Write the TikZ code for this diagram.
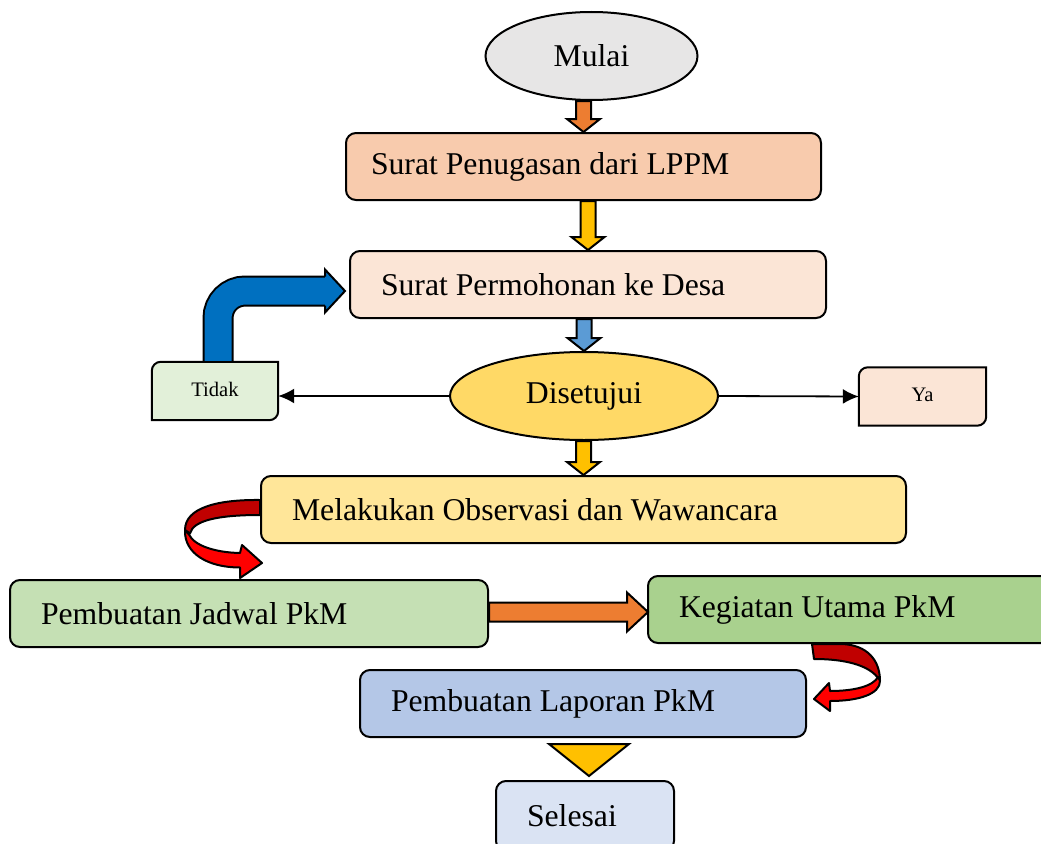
\documentclass[tikz,border=0pt]{standalone}
\usepackage{fontspec}
\setmainfont{Liberation Serif}
\usepackage{tikz}
\usetikzlibrary{shapes,shapes.geometric,positioning,calc,arrows.meta,backgrounds}
\definecolor{startgray}{HTML}{E7E6E6}
\definecolor{peach}{HTML}{F8CBAD}
\definecolor{lightpeach}{HTML}{FBE5D6}
\definecolor{gold}{HTML}{FFD966}
\definecolor{palegreen}{HTML}{E2F0D9}
\definecolor{paleyellow}{HTML}{FFE699}
\definecolor{midgreen}{HTML}{C5E0B4}
\definecolor{green}{HTML}{A9D18E}
\definecolor{lightblue}{HTML}{B4C7E7}
\definecolor{paleblue}{HTML}{DAE3F3}
\definecolor{arroworange}{HTML}{ED7D31}
\definecolor{arrowyellow}{HTML}{FFC000}
\definecolor{arrowblue}{HTML}{5B9BD5}
\definecolor{deepblue}{HTML}{0070C0}
\definecolor{brightred}{HTML}{FF0000}
\definecolor{darkred}{HTML}{C00000}
\tikzstyle{every node}=[anchor=west]
\tikzstyle{stepbox}=[draw, line width=2pt, rounded corners=10pt, minimum height=67pt, inner xsep=31pt, inner ysep=0pt, align=flush left, font=\fontsize{31.7}{38}\selectfont]
\tikzstyle{oval}=[ellipse, draw, line width=2pt, anchor=center, inner sep=0pt, minimum height=88pt, font=\fontsize{31.7}{38}\selectfont]
\tikzstyle{answer}=[anchor=center, inner sep=0pt, minimum height=58pt, font=\fontsize{20.6}{24}\selectfont]
\tikzstyle{blockarrow}=[draw=black, line width=2pt, line join=miter]
\tikzstyle{thinarrow}=[-{Latex[length=16pt,width=15pt]}, line width=1.8pt]
\tikzstyle{ribbon}=[draw=black, line width=2pt, line join=round]

% fat arrow pointing down, from one node to the next
\newcommand{\vblock}[3]{%
  \draw[blockarrow, fill=#1] ($(#2.south -| #3.north)+(-7.5,0)$) -- ($(#2.south -| #3.north)+(7.5,0)$)
    -- ($(#3.north)+(7.5,-13)$) -- ($(#3.north)+(16.5,-13)$) -- (#3.north)
    -- ($(#3.north)+(-16.5,-13)$) -- ($(#3.north)+(-7.5,-13)$) -- cycle;}
% box with two rounded corners (top left, bottom right)
\newcommand{\diagframe}[2]{%
  \draw[line width=2pt, fill=#2] (#1.south west) -- ($(#1.north west)+(0,9)$)
    .. controls ($(#1.north west)+(0,4)$) and ($(#1.north west)+(4,0)$) .. ($(#1.north west)+(9,0)$)
    -- (#1.north east) -- ($(#1.south east)+(0,-9)$)
    .. controls ($(#1.south east)+(0,-4)$) and ($(#1.south east)+(-4,0)$) .. ($(#1.south east)+(-9,0)$)
    -- cycle;}

\begin{document}
\begin{tikzpicture}[x=1pt,y=-1pt]
  \useasboundingbox (0,0) rectangle (1041,843);

  \node[oval, fill=startgray, minimum width=212pt] (mulai) at (591.5,56) {Mulai};
  \node[stepbox, fill=peach, inner xsep=25pt, text width=425pt] (tugas) at (345,166.5) {Surat Penugasan dari LPPM};
  \node[stepbox, fill=lightpeach, text width=414pt] (mohon) at (349,284.5) {Surat Permohonan ke Desa};
  \node[oval, fill=gold, minimum width=268pt] (setuju) at (584,396) {Disetujui};
  \node[answer, minimum width=126pt] (tidak) at (215,391) {\raisebox{4pt}{Tidak}};
  \node[answer, minimum width=127pt] (ya) at (922.5,396.5) {\raisebox{4pt}{Ya}};
  \node[stepbox, fill=paleyellow, text width=583pt] (observasi) at (260,509.5) {Melakukan Observasi dan Wawancara};
  \node[stepbox, fill=midgreen, text width=416pt] (jadwal) at (9,613.5) {Pembuatan Jadwal PkM};
  \node[stepbox, fill=green, text width=361pt] (utama) at (647,609.5) {Kegiatan Utama PkM};
  \node[stepbox, fill=lightblue, text width=384pt] (laporan) at (359,703.5) {Pembuatan Laporan PkM};
  \node[stepbox, fill=paleblue, minimum height=70pt, text width=116pt] (selesai) at (495,816) {Selesai};

  \begin{pgfonlayer}{background}
    \diagframe{tidak}{palegreen}
    \diagframe{ya}{lightpeach}
  \end{pgfonlayer}

  \vblock{arroworange}{mulai}{tugas}
  \vblock{arrowyellow}{tugas}{mohon}
  \vblock{arrowblue}{mohon}{setuju}
  \vblock{arrowyellow}{setuju}{observasi}

  \draw[thinarrow] (setuju.west) -- (tidak.east |- setuju.west);
  \draw[thinarrow] (setuju.east) -- (ya.west);

  % Tidak back to the request
  \draw[line width=31pt, black, rounded corners=27pt] ($(tidak.north)+(3,-1)$) |- ($(mohon.west)+(-23,6.5)$);
  \draw[line width=27pt, deepblue, rounded corners=27pt] ($(tidak.north)+(3,-1)$) |- ($(mohon.west)+(-23,6.5)$);
  \draw[blockarrow, fill=deepblue] ($(mohon.west)+(-24,-8)$) -- ($(mohon.west)+(-24,-15)$)
    -- ($(mohon.west)+(-4,6.5)$) -- ($(mohon.west)+(-24,28)$) -- ($(mohon.west)+(-24,21)$);

  % observasi -> jadwal
  \begin{scope}[shift={(observasi.west)}]
    \draw[ribbon, fill=darkred] (0,-9.5) .. controls (-42,-10) and (-75,-2) .. (-75,20.5)
      -- (-70,24) .. controls (-67,11) and (-42,5.5) .. (0,5.5) -- cycle;
    \draw[ribbon, fill=brightred] (-75,20.5) .. controls (-76,44) and (-52,58) .. (-20,58)
      -- (-20,68.5) -- (2,53.5) -- (-18,35.5) -- (-20,43.5)
      .. controls (-45,43) and (-66,36) .. (-71,25) -- cycle;
  \end{scope}

  \draw[blockarrow, fill=arroworange] ($(jadwal.east |- utama.west)+(0,-7)$) -- ($(utama.west)+(-20,-7)$)
    -- ($(utama.west)+(-20,-17)$) -- ($(utama.west)+(1,2.5)$) -- ($(utama.west)+(-20,22)$)
    -- ($(utama.west)+(-20,12)$) -- ($(jadwal.east |- utama.west)+(0,12)$) -- cycle;

  % utama -> laporan
  \begin{scope}[shift={(laporan.east |- utama.south)}]
    \draw[ribbon, fill=darkred] (5,0) -- (35,0) .. controls (60,1) and (73,16) .. (73,37)
      .. controls (66,24) and (45,15) .. (7,15) -- cycle;
    \draw[ribbon, fill=brightred] (73,37) .. controls (73,50) and (52,57) .. (23,57)
      -- (23,67) -- (7,55) -- (22,39) -- (23,47)
      .. controls (48,47) and (66,42) .. (71,33) -- cycle;
  \end{scope}

  \draw[blockarrow, fill=arrowyellow] ($(laporan.south)+(-34,6)$) -- ($(laporan.south)+(46,6)$)
    -- ($(laporan.south)+(6,38)$) -- cycle;
\end{tikzpicture}
\end{document}
